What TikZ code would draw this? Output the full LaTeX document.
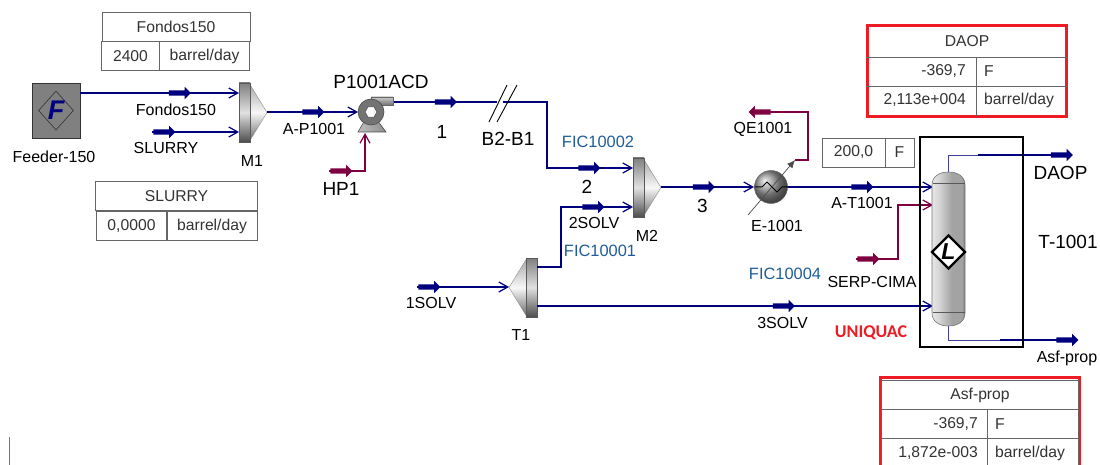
\documentclass[tikz,border=0pt]{standalone}
\usepackage{fontspec}
\setmainfont{Liberation Sans}
\newfontfamily\uniqfont{Carlito}
\usetikzlibrary{arrows.meta,positioning,shapes.geometric,shapes.arrows}
\definecolor{strmblue}{HTML}{00007F}
\definecolor{heatred}{HTML}{7F0040}
\definecolor{ficblue}{HTML}{1F5C99}
\definecolor{alertred}{HTML}{ED1C24}
\definecolor{celltxt}{HTML}{333333}
\pgfdeclarehorizontalshading{towerbands}{100bp}{color(0bp)=(black!65); color(8bp)=(black!48); color(22bp)=(black!8); color(35bp)=(black!16); color(55bp)=(black!36); color(70bp)=(black!36); color(78bp)=(black!58); color(100bp)=(black!68)}
\tikzset{%
	lbl/.style      = {inner sep=0pt, text=black, font=\fontsize{16}{18}\selectfont},
	biglbl/.style   = {lbl, font=\fontsize{19}{21}\selectfont},
	ficlbl/.style   = {lbl, text=ficblue, font=\fontsize{16.4}{18}\selectfont},
	cell/.style     = {draw=black!60, line width=0.8pt, inner sep=0pt, minimum height=29pt, text=celltxt, font=\fontsize{15.7}{18}\selectfont},
	celltext/.style = {inner sep=0pt, text=celltxt, font=\fontsize{15.7}{18}\selectfont},
	alertbox/.style = {draw=alertred, line width=3pt},
	waypoint/.style = {coordinate},
	strm/.style     = {draw=strmblue, line width=1.2pt, -{Straight Barb[length=9pt,width=10pt]}},
	strmfree/.style = {draw=strmblue, line width=1.2pt},
	strmthin/.style = {draw=strmblue!75, line width=0.8pt},
	heat/.style     = {draw=heatred, line width=1.2pt, -{Straight Barb[length=9pt,width=10pt]}},
	heatfree/.style = {draw=heatred, line width=1.2pt},
	flowtag/.style  = {single arrow, fill=strmblue, inner sep=0pt, text height=5pt, text depth=0pt, text width=0pt, minimum height=22pt, minimum width=12pt, single arrow head extend=3.5pt, single arrow head indent=0pt},
	heattag/.style  = {flowtag, fill=heatred},
	mixer/.pic      = {
		\path [shade, top color=black!35, bottom color=black!60, middle color=black!3, draw=black!45] (10,0) -- (28,29.5) -- (10,59) -- cycle;
		\path [shade, top color=black!50, bottom color=black!70, middle color=black!12, draw=black!65, line width=0.7pt] (0,0) rectangle (11,59);
	},
}
\begin{document}
\begin{tikzpicture}[x=1pt,y=-1pt,node distance=17pt]
	\useasboundingbox (0,0) rectangle (1100,465);
	\clip (0,0) rectangle (1100,465);

	% equipment
	\node [draw=black!80, fill=black!50, line width=0.8pt, minimum width=48pt, minimum height=55pt, inner sep=0pt] (feeder) at (56,110.5) {};
	\node [diamond, draw=black!80, line width=0.6pt, minimum width=35pt, minimum height=39pt, inner sep=0pt] (feederd) at (feeder) {};
	\node [inner sep=0pt, text=strmblue, font=\fontsize{27}{28}\selectfont\bfseries\itshape] (feederf) at (feeder) {F};
	\pic at (239,83) {mixer};
	\pic at (633,158) {mixer};
	\pic [xscale=-1] at (537,258) {mixer};

	% waypoints
	\node [waypoint] (feedout) at (80,93) {};
	\node [waypoint] (m1a) at (239,93) {};
	\node [waypoint] (m1b) at (239,132) {};
	\node [waypoint] (m1out) at (267,112) {};
	\node [waypoint] (slurryin) at (152,132) {};
	\node [waypoint] (pumpin) at (358,112) {};
	\node [waypoint] (pumpout) at (393,102) {};
	\node [waypoint] (pumpbase) at (365,133) {};
	\node [waypoint] (hpin) at (329,171) {};
	\node [waypoint] (hsin) at (497,102) {};
	\node [waypoint] (hsout) at (503,102) {};
	\node [waypoint] (m2a) at (633,168) {};
	\node [waypoint] (m2b) at (633,207) {};
	\node [waypoint] (m2out) at (661,187) {};
	\node [waypoint] (exin) at (754,187) {};
	\node [waypoint] (exout) at (787,187) {};
	\node [waypoint] (tin1) at (933,187) {};
	\node [waypoint] (tin2) at (933,205) {};
	\node [waypoint] (tin3) at (933,306) {};
	\node [waypoint] (serpin) at (856,259) {};
	\node [waypoint] (solvin) at (417,287) {};
	\node [waypoint] (t1in) at (509,287) {};
	\node [waypoint] (t1a) at (537,267) {};
	\node [waypoint] (t1b) at (537,306) {};
	\node [waypoint] (qestart) at (795,160) {};
	\node [waypoint] (qeend) at (760,112) {};
	\node [waypoint] (ttop) at (948.5,172) {};
	\node [waypoint] (tbot) at (948.5,326) {};
	\node [waypoint] (daopa) at (978,155) {};
	\node [waypoint] (daopend) at (1060,155) {};
	\node [waypoint] (asfa) at (1000,340) {};
	\node [waypoint] (asfend) at (1066,340) {};

	% streams
	\draw [strm] (feedout) -- (m1a);
	\draw [strm] (slurryin) -- (m1b);
	\draw [strm] (m1out) -- (pumpin);
	\draw [heat] (hpin) -| (pumpbase);
	\draw [strmfree] (pumpout) -- (hsin);
	\draw [strm] (hsout) -- ++(44,0) |- (m2a);
	\draw [strm] (t1a) -- ++(24,0) |- (m2b);
	\draw [strm] (m2out) -- (exin);
	\draw [strm] (exout) -- (tin1);
	\draw [heat] (serpin) -- ++(42,0) |- (tin2);
	\draw [strm] (solvin) -- (t1in);
	\draw [strm] (t1b) -- (tin3);
	\draw [heatfree] (qestart) -- ++(13,0) |- (qeend);
	\draw [strmthin] (ttop) |- (daopa);
	\draw [strmfree] (daopa) -- (daopend);
	\draw [strmthin] (tbot) |- (asfa);
	\draw [strmfree] (asfa) -- (asfend);

	% flow markers
	\node [flowtag] (tagfondos) at (178.5,93) {};
	\node [flowtag] (tagslurry) at (163,132) {};
	\node [flowtag] (tagap) at (312,112) {};
	\node [heattag] (taghp) at (340,171) {};
	\node [flowtag] (tag1) at (444.5,102) {};
	\node [flowtag] (tag2) at (588,168) {};
	\node [flowtag] (tag2s) at (592,207) {};
	\node [flowtag] (tag3) at (702.5,187) {};
	\node [flowtag] (tag1s) at (428,287) {};
	\node [flowtag] (tag3s) at (782.5,306) {};
	\node [flowtag] (tagat) at (861,187) {};
	\node [heattag] (tagserp) at (867,259) {};
	\node [heattag, shape border rotate=180] (tagqe) at (761,112) {};
	\node [flowtag] (tagdaop) at (1060.5,155) {};
	\node [flowtag] (tagasf) at (1066,340) {};

	% pump
	\path [shade, top color=black!20, bottom color=black!55, draw=black!60, line width=0.6pt] (371,97) rectangle (393,105);
	\path [shade, left color=black!25, right color=black!45, draw=black!70, line width=0.6pt] (365,120) -- (377,120) -- (386,132) -- (358,132) -- cycle;
	\node [circle, fill=black!55, draw=black!70, line width=0.6pt, minimum size=26pt, inner sep=0pt] (pump) at (371,112) {};
	\node [regular polygon, regular polygon sides=6, fill=white, draw=black!70, line width=0.6pt, minimum size=12pt, inner sep=0pt] (pumpeye) at (371,112) {};

	% splitter hash
	\node [waypoint] (hsa) at (489,122) {};
	\node [waypoint] (hsb) at (507,85) {};
	\node [waypoint] (hsc) at (497,122) {};
	\node [waypoint] (hsd) at (517,85) {};
	\draw [black, line width=0.9pt] (hsa) -- (hsb);
	\draw [black, line width=0.9pt] (hsc) -- (hsd);

	% exchanger
	\node [circle, ball color=black!40, draw=black!60, line width=0.5pt, minimum size=33pt, inner sep=0pt] (ex) at (771,187) {};
	\draw [black, line width=1pt] (755,187) -- (762,187) -- (767,182) -- (777,192) -- (782,187) -- (788,187);
	\node [waypoint] (exarra) at (748,215) {};
	\node [waypoint] (exarrb) at (795,160) {};
	\draw [black!70, line width=0.7pt, -{Latex[length=8pt,width=7pt]}] (exarra) -- (exarrb);

	% column
	\draw [black, line width=1.5pt] (920,137) rectangle (1023,347);
	\path [shading=towerbands, draw=black!55, line width=0.6pt] (932,185) .. controls (932,176) and (940,172) .. (948.5,172) .. controls (957,172) and (965,176) .. (965,185) -- (965,313) .. controls (965,322) and (957,326) .. (948.5,326) .. controls (940,326) and (932,322) .. (932,313) -- cycle;
	\draw [black!65, line width=0.7pt] (932.5,183) -- (964.5,183);
	\draw [black!65, line width=0.7pt] (932.5,312) -- (964.5,312);
	\node [diamond, fill=white, draw=black, line width=2.4pt, minimum width=34pt, minimum height=34pt, inner sep=0pt] (tower) at (948.5,252) {};
	\node [inner sep=0pt, text=black, font=\fontsize{23}{24}\selectfont\bfseries\itshape] (towerl) at (tower) {L};

	% labels
	\node [lbl] (lblfeeder) at (54,157) {Feeder-150};
	\node [lbl] (lblm1) at (252,161) {M1};
	\node [lbl] (lblm2) at (647,236) {M2};
	\node [lbl] (lblt1) at (521,335) {T1};
	\node [lbl] (lble) at (777,226) {E-1001};
	\node [biglbl] (lblpump) at (381,82) {P1001ACD};
	\node [biglbl] (lblhs) at (508,139) {B2-B1};
	\node [biglbl] (lbltower) at (1068,242) {T-1001};
	\node [lbl, below of=tagfondos, xshift=-2.5pt] (lblfondos) {Fondos150};
	\node [lbl, below of=tagslurry, node distance=16pt, xshift=3pt] (lblslurry) {SLURRY};
	\node [lbl, below of=tagap, xshift=2pt] (lblap) {A-P1001};
	\node [biglbl, below of=taghp, node distance=18pt, xshift=1pt] (lblhp) {HP1};
	\node [biglbl, below of=tag1, node distance=30pt, xshift=-2.5pt] (lbl1) {1};
	\node [biglbl, below of=tag2, node distance=19pt, xshift=-1pt] (lbl2) {2};
	\node [lbl, below of=tag2s, node distance=16pt, xshift=2pt] (lbl2s) {2SOLV};
	\node [biglbl, below of=tag3, node distance=19pt] (lbl3) {3};
	\node [lbl, below of=tag1s, node distance=16pt, xshift=3pt] (lbl1s) {1SOLV};
	\node [lbl, below of=tag3s] (lbl3s) {3SOLV};
	\node [lbl, below of=tagat, node distance=16pt, xshift=1pt] (lblat) {A-T1001};
	\node [lbl, below of=tagserp, node distance=23pt, xshift=5pt] (lblserp) {SERP-CIMA};
	\node [lbl, below of=tagqe, xshift=2pt] (lblqe) {QE1001};
	\node [biglbl, below of=tagdaop, node distance=18pt] (lbldaop) {DAOP};
	\node [lbl, below of=tagasf, node distance=18pt, xshift=1pt] (lblasf) {Asf-prop};
	\node [ficlbl] (fic2) at (598,142) {FIC10002};
	\node [ficlbl] (fic1) at (600,251) {FIC10001};
	\node [ficlbl] (fic4) at (785,274) {FIC10004};
	\node [inner sep=0pt, text=alertred, font=\uniqfont\fontsize{18}{20}\selectfont\bfseries] (lbluniq) at (871,333) {UNIQUAC};

	% tables
	\node [cell, minimum width=148pt] (fonh) at (176,27) {Fondos150};
	\node [cell, minimum width=58pt] (fonv) at (130.5,56) {2400};
	\node [cell, minimum width=90pt] (fonu) at (204.5,56) {barrel/day};
	\node [cell, minimum width=162pt] (slh) at (176.5,196) {SLURRY};
	\node [cell, minimum width=71pt] (slv) at (131.5,226) {0,0000};
	\node [cell, minimum width=91pt] (slu) at (212,226) {barrel/day};
	\node [cell, minimum width=63pt] (tv) at (853.5,152.5) {200,0};
	\node [cell, minimum width=29pt] (tu) at (899.5,152.5) {F};

	\node [alertbox, minimum width=199pt, minimum height=91pt, inner sep=0pt] (daopbox) at (967,71) {};
	\draw [black!60, line width=0.8pt] (866,57) -- (1068,57);
	\draw [black!60, line width=0.8pt] (866,86) -- (1068,86);
	\draw [black!60, line width=0.8pt] (976,57) -- (976,116);
	\node [celltext] (daoph) at (967,41) {DAOP};
	\node [celltext, anchor=east] (daopt) at (966,71.5) {-369,7};
	\node [celltext, anchor=west] (daoptu) at (984,71.5) {F};
	\node [celltext, anchor=east] (daopq) at (966,100.5) {2,113e+004};
	\node [celltext, anchor=west] (daopqu) at (984,100.5) {barrel/day};

	\node [alertbox, minimum width=199pt, minimum height=110pt, inner sep=0pt] (asfbox) at (980,432) {};
	\draw [black!60, line width=0.8pt] (881,380) rectangle (1078,470);
	\draw [black!60, line width=0.8pt] (881,409) -- (1078,409);
	\draw [black!60, line width=0.8pt] (881,438) -- (1078,438);
	\draw [black!60, line width=0.8pt] (987,409) -- (987,470);
	\node [celltext] (asfh) at (980,395) {Asf-prop};
	\node [celltext, anchor=east] (asft) at (978,424) {-369,7};
	\node [celltext, anchor=west] (asftu) at (995,424) {F};
	\node [celltext, anchor=east] (asfq) at (978,453) {1,872e-003};
	\node [celltext, anchor=west] (asfqu) at (995,453) {barrel/day};

	\node [waypoint] (marka) at (9,437) {};
	\node [waypoint] (markb) at (9,465) {};
	\draw [black!55, line width=1pt] (marka) -- (markb);
\end{tikzpicture}
\end{document}
